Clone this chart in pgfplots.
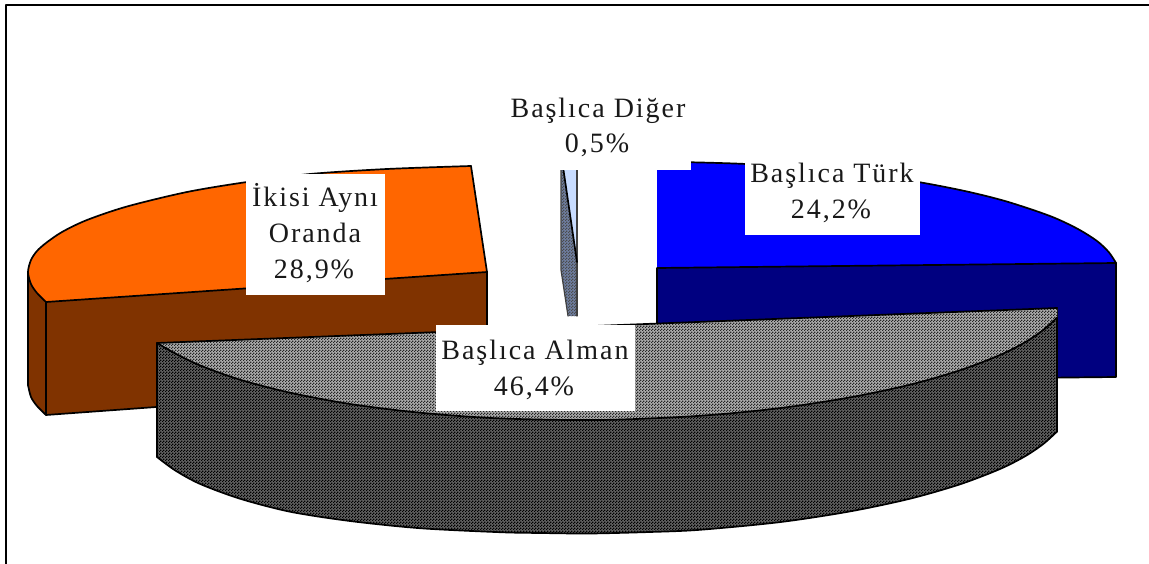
\documentclass[border=0pt]{standalone}
\usepackage{pgfplots}
\pgfplotsset{compat=1.18}
\usepackage{fontspec}
\setmainfont[LetterSpace=7]{Liberation Serif}
\usetikzlibrary{patterns}
\pgfdeclarepatternformonly{chk}{\pgfqpoint{0pt}{0pt}}{\pgfqpoint{2.6pt}{2.6pt}}{\pgfqpoint{2.6pt}{2.6pt}}{%
  \pgfpathrectangle{\pgfqpoint{0pt}{0pt}}{\pgfqpoint{1.3pt}{1.3pt}}%
  \pgfpathrectangle{\pgfqpoint{1.3pt}{1.3pt}}{\pgfqpoint{1.3pt}{1.3pt}}%
  \pgfusepath{fill}}
\definecolor{orangeT}{HTML}{FF6600}
\definecolor{orangeS}{HTML}{803300}
\definecolor{blueT}{HTML}{0000FF}
\definecolor{blueS}{HTML}{000080}
\definecolor{slimL}{HTML}{C8DCFF}
\definecolor{slimD}{HTML}{6E7EA0}
\pgfplotsset{
  edge/.style={black,line width=1.7pt,no markers,line cap=round,line join=round},
  curve/.style={edge,smooth,tension=0.5},
  face/.style={draw=none,no markers}
}
\newcommand{\lbl}[3]{\node[anchor=base,inner sep=0pt,text=black!90,font=\fontsize{28}{30}\selectfont] at (axis cs:#1,#2) {#3};}
\newcommand{\wbox}[4]{\fill[white] (axis cs:#1,#2) rectangle (axis cs:#3,#4);}
\begin{document}
\begin{tikzpicture}
\begin{axis}[
  width=1149pt,height=564pt,scale only axis,hide axis,
  xmin=0,xmax=1149,ymin=0,ymax=564,y dir=reverse,clip=true]
\path (axis cs:0,0) rectangle (axis cs:1149,564);
% frame
\addplot[edge] coordinates {(6,564)(6,5)(1149,5)};
% orange slice: side
\addplot[face,fill=orangeS] coordinates {(46,302)(487,272)(487,383)(46,415)(37,406)(31,397)(28,385)(28,272)(31,284)(37,293)} -- cycle;
\addplot[curve] coordinates {(46,415)(37,406)(31,397)(28,385)};
\addplot[edge] coordinates {(28,385)(28,272)};
\addplot[edge] coordinates {(46,302)(46,415)(487,383)(487,272)};
% orange slice: top
\addplot[face,fill=orangeT] coordinates {(46,302)(37,293)(31,284)(28,272)(31,260)(37,251)(46,243)(62,232)(87,220)(127,206.5)(187,192)(247,182)(310,174)(387,169)(471,166)(487,272)} -- cycle;
\addplot[curve] coordinates {(46,302)(37,293)(31,284)(28,272)(31,260)(37,251)(46,243)(62,232)(87,220)(127,206.5)(187,192)(247,182)(310,174)(387,169)(471,166)};
\addplot[edge] coordinates {(471,166)(487,272)(46,302)};
% blue slice: side
\addplot[face,fill=blueS] coordinates {(657,268)(1116,263)(1116,377)(657,382)} -- cycle;
\addplot[edge] coordinates {(657,382)(1116,377)(1116,263)};
% blue slice: top
\addplot[face,fill=blueT] coordinates {(657,162)(692,162.3)(746,164)(807,168)(867,174.5)(920,182.3)(967,191.5)(1007,201.6)(1050,216)(1077,228.5)(1097,241)(1109,252.4)(1116,263)(657,268)} -- cycle;
\addplot[curve] coordinates {(657,162)(692,162.3)(746,164)(807,168)(867,174.5)(920,182.3)(967,191.5)(1007,201.6)(1050,216)(1077,228.5)(1097,241)(1109,252.4)(1116,263)};
\addplot[edge] coordinates {(1116,263)(657,268)(657,382)};
% small slice
\addplot[face,fill=slimD] coordinates {(561,160)(577,160)(577,316)(568,316)(561,270)} -- cycle;
\addplot[face,pattern=chk,pattern color=black!70] coordinates {(561,160)(577,262)(577,316)(568,316)(561,270)} -- cycle;
\addplot[face,fill=slimL] coordinates {(562,160)(577,160)(577,262)} -- cycle;
\addplot[edge,line width=1.2pt,black!75] coordinates {(561,160)(561,270)(568,316)};
\addplot[edge,line width=1.2pt,black!75] coordinates {(577,160)(577,316)};
\addplot[edge] coordinates {(562,160)(577,262)};
% grey slice: side
\addplot[face,fill=black!62] coordinates {(157,343)(175,353.3)(200,365.4)(240,379.7)(290,392.7)(350,404)(420,412.7)(500,418.4)(600,420)(700,415.8)(780,408.1)(850,397.4)(910,384.7)(960,370.3)(1000,355)(1025,342.3)(1043,330.2)(1057,317.6)(1057,431.6)(1043,444.2)(1025,456.3)(1000,469)(960,484.3)(910,498.7)(850,511.4)(780,522.1)(700,529.8)(650,532)(590,533.5)(540,533)(500,532.2)(420,528.2)(350,521)(290,511.7)(240,498.7)(200,483.9)(175,470.3)(157,457)} -- cycle;
\addplot[face,pattern=chk,pattern color=black] coordinates {(157,343)(175,353.3)(200,365.4)(240,379.7)(290,392.7)(350,404)(420,412.7)(500,418.4)(600,420)(700,415.8)(780,408.1)(850,397.4)(910,384.7)(960,370.3)(1000,355)(1025,342.3)(1043,330.2)(1057,317.6)(1057,431.6)(1043,444.2)(1025,456.3)(1000,469)(960,484.3)(910,498.7)(850,511.4)(780,522.1)(700,529.8)(650,532)(590,533.5)(540,533)(500,532.2)(420,528.2)(350,521)(290,511.7)(240,498.7)(200,483.9)(175,470.3)(157,457)} -- cycle;
\addplot[curve] coordinates {(157,457)(175,470.3)(200,483.9)(240,498.7)(290,511.7)(350,521)(420,528.2)(500,532.2)(540,533)(590,533.5)(650,532)(700,529.8)(780,522.1)(850,511.4)(910,498.7)(960,484.3)(1000,469)(1025,456.3)(1043,444.2)(1057,431.6)};
\addplot[edge] coordinates {(157,343)(157,457)};
\addplot[edge] coordinates {(1057,308)(1057,431.6)};
% grey slice: top
\addplot[face,fill=black!32] coordinates {(157,343)(1057,308)(1057,317.6)(1043,330.2)(1025,342.3)(1000,355)(960,370.3)(910,384.7)(850,397.4)(780,408.1)(700,415.8)(600,420)(500,418.4)(420,412.7)(350,404)(290,392.7)(240,379.7)(200,365.4)(175,353.3)} -- cycle;
\addplot[face,pattern=chk,pattern color=black!85] coordinates {(157,343)(1057,308)(1057,317.6)(1043,330.2)(1025,342.3)(1000,355)(960,370.3)(910,384.7)(850,397.4)(780,408.1)(700,415.8)(600,420)(500,418.4)(420,412.7)(350,404)(290,392.7)(240,379.7)(200,365.4)(175,353.3)} -- cycle;
\addplot[curve] coordinates {(157,343)(175,353.3)(200,365.4)(240,379.7)(290,392.7)(350,404)(420,412.7)(500,418.4)(600,420)(700,415.8)(780,408.1)(850,397.4)(910,384.7)(960,370.3)(1000,355)(1025,342.3)(1043,330.2)(1057,317.6)};
\addplot[edge] coordinates {(157,343)(1057,308)};
% label boxes and labels
\wbox{505}{95}{691}{170}
\wbox{745}{160}{920}{235}
\wbox{246}{174}{385}{295}
\wbox{436}{325}{635}{411}
\lbl{598}{118}{Başlıca Diğer}
\lbl{597}{153}{0,5\%}
\lbl{832}{183}{Başlıca Türk}
\lbl{831}{219}{24,2\%}
\lbl{315}{207}{İkisi Aynı}
\lbl{315}{243}{Oranda}
\lbl{314}{279}{28,9\%}
\lbl{535}{359}{Başlıca Alman}
\lbl{534}{395}{46,4\%}
\end{axis}
\end{tikzpicture}
\end{document}
